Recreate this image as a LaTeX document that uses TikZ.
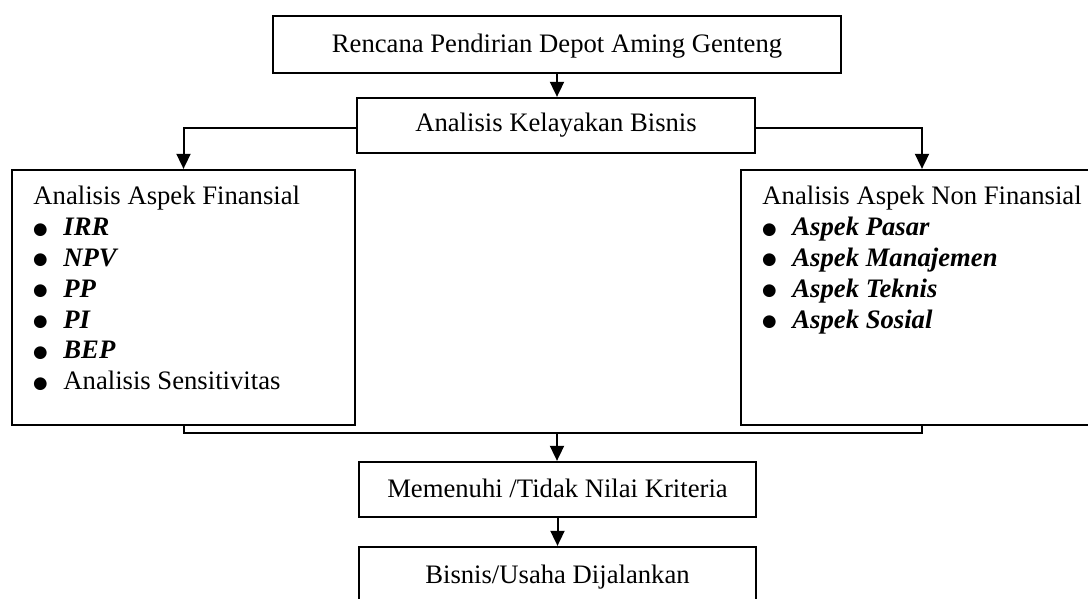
\documentclass[tikz,border=0pt]{standalone}
\usepackage{fontspec}
\setmainfont{Liberation Serif}
\newfontfamily\symfont{DejaVu Sans}
\usetikzlibrary{arrows.meta,fit}
\newcommand{\bigbul}{{\symfont\fontsize{7.5}{8}\selectfont ●}}
\newcommand{\bl}[1]{\hbox{\hbox to 6.3pt{\hss\raisebox{0.8pt}{\bigbul}\hss}\hskip7.2pt #1}}
\newcommand{\bi}[1]{{\bfseries\itshape #1}}
\newcommand{\listsetup}{\baselineskip=13.86pt\lineskiplimit=-100pt\lineskip=0pt}
\begin{document}
\begin{tikzpicture}[x=0.45pt,y=-0.45pt,
  box/.style={draw, line width=1pt, inner sep=0pt},
  conn/.style={line width=0.9pt},
  arr/.style={conn, -{Triangle[length=6.8pt,width=6.3pt]}},
  txt/.style={inner sep=0pt, font=\fontsize{12}{14}\selectfont},
  ctxt/.style={txt, anchor=base},
]
\path[use as bounding box] (0,0) rectangle (1088,599);
\clip (0,0) rectangle (1088,599);

% boxes
\node[box, fit={(273,16) (841,73)}] (top) {};
\node[ctxt] (topt) at (557,53) {Rencana Pendirian Depot Aming Genteng};
\node[box, fit={(357,98) (755,153)}] (ak) {};
\node[ctxt] (akt) at (556,132) {Analisis Kelayakan Bisnis};
\node[box, fit={(12,170) (355,425)}] (fin) {};
\node[box, fit={(741,170) (1103,425)}] (non) {};
\node[box, fit={(359,462) (756,517)}] (mem) {};
\node[ctxt] (memt) at (557.5,497) {Memenuhi /Tidak Nilai Kriteria};
\node[box, fit={(359,547) (756,640)}] (bis) {};
\node[ctxt] (bist) at (557.5,583) {Bisnis/Usaha Dijalankan};

% left box content
\node[txt, anchor=base west] (fint) at (33,205) {\vtop{\listsetup
  \hbox{Analisis Aspek Finansial}
  \bl{\bi{IRR}}
  \bl{\bi{NPV}}
  \bl{\bi{PP}}
  \bl{\bi{PI}}
  \bl{\bi{BEP}}
  \bl{Analisis Sensitivitas}}};

% right box content
\node[txt, anchor=base west] (nont) at (762,205) {\vtop{\listsetup
  \hbox{Analisis Aspek Non Finansial}
  \bl{\bi{Aspek Pasar}}
  \bl{\bi{Aspek Manajemen}}
  \bl{\bi{Aspek Teknis}}
  \bl{\bi{Aspek Sosial}}}};

% connectors
\draw[arr] (top.south) -- (top.south |- ak.north);
\draw[arr] ([yshift=-1.1pt]ak.west) -| (fin.north);
\draw[arr] ([yshift=-1.1pt]ak.east) -| (non.north);
\coordinate (m) at (557,433);
\draw[conn] (fin.south) |- (m) -| (non.south);
\draw[arr] (m) -- (m |- mem.north);
\draw[arr] (mem.south) -- (bis.north);
\end{tikzpicture}
\end{document}
